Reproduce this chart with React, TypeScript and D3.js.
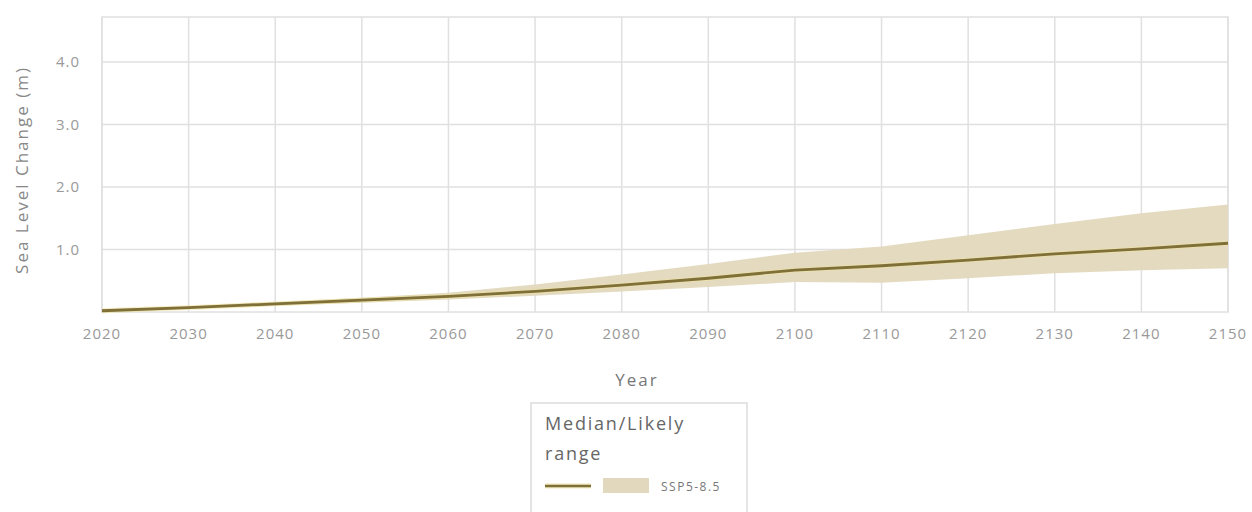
import React from "react";
import * as d3 from "d3";

const years = [2020, 2030, 2040, 2050, 2060, 2070, 2080, 2090, 2100, 2110, 2120, 2130, 2140, 2150];
const median = [0.02, 0.07, 0.13, 0.19, 0.25, 0.33, 0.43, 0.54, 0.67, 0.74, 0.83, 0.93, 1.01, 1.1];
const lower = [0.0, 0.05, 0.1, 0.15, 0.2, 0.26, 0.33, 0.4, 0.48, 0.47, 0.54, 0.62, 0.67, 0.7];
const upper = [0.04, 0.09, 0.16, 0.23, 0.31, 0.44, 0.6, 0.77, 0.95, 1.05, 1.23, 1.41, 1.58, 1.72];
const yTicks = [1.0, 2.0, 3.0, 4.0];
const scenarioLabel = "SSP5-8.5";

const W = 1252;
const H = 512;
const M = { left: 102, right: 1228, top: 17, bottom: 312 };

export default function App() {
  const x = d3.scaleLinear().domain([2020, 2150]).range([M.left, M.right]);
  const y = d3.scaleLinear().domain([0, 4.72]).range([M.bottom, M.top]);
  const idx = years.map((_, i) => i);
  const area = d3
    .area<number>()
    .x((i) => x(years[i]))
    .y0((i) => y(lower[i]))
    .y1((i) => y(upper[i]));
  const line = d3
    .line<number>()
    .x((i) => x(years[i]))
    .y((i) => y(median[i]));
  const font = "'Open Sans', 'Noto Sans', sans-serif";
  const grid = "#e0e0e0";
  const txt = "#999";
  return (
    <svg width={W} height={H} style={{ position: "absolute", left: 0, top: 0, background: "#fff" }} fontFamily={font}>
      <rect x={M.left} y={M.top} width={M.right - M.left} height={M.bottom - M.top} fill="#fff" stroke={grid} strokeWidth={1.5} />
      {years.map((yr) => (
        <line key={"gx" + yr} x1={x(yr)} x2={x(yr)} y1={M.top} y2={M.bottom} stroke={grid} strokeWidth={1.5} />
      ))}
      {yTicks.map((t) => (
        <line key={"gy" + t} x1={M.left} x2={M.right} y1={y(t)} y2={y(t)} stroke={grid} strokeWidth={1.5} />
      ))}
      <path d={area(idx) || ""} fill="#e2d8bd" opacity={0.95} />
      <path d={line(idx) || ""} fill="none" stroke="#efe2a0" strokeWidth={5} opacity={0.6} />
      <path d={line(idx) || ""} fill="none" stroke="#7f6f38" strokeWidth={2.8} />
      {yTicks.map((t) => (
        <text key={"ty" + t} x={80} y={y(t)} dy="0.35em" textAnchor="end" fontSize={15} letterSpacing={1} fill={txt}>
          {d3.format(".1f")(t)}
        </text>
      ))}
      {years.map((yr) => (
        <text key={"tx" + yr} x={x(yr)} y={339} textAnchor="middle" fontSize={15} letterSpacing={1} fill={txt}>
          {yr}
        </text>
      ))}
      <text x={637} y={386} textAnchor="middle" fontSize={17} letterSpacing={2} fill="#777">
        Year
      </text>
      <text transform={`translate(28,170) rotate(-90)`} textAnchor="middle" fontSize={17} letterSpacing={2} fill="#888">
        Sea Level Change (m)
      </text>
      <rect x={531} y={403} width={216} height={120} fill="#fff" stroke="#dcdcdc" strokeWidth={1.5} />
      <text x={545} y={430} fontSize={18} letterSpacing={1.8} fill="#666">
        Median/Likely
      </text>
      <text x={545} y={460} fontSize={18} letterSpacing={1.8} fill="#666">
        range
      </text>
      <line x1={545} x2={591} y1={486} y2={486} stroke="#efe2a0" strokeWidth={5} opacity={0.7} />
      <line x1={545} x2={591} y1={486} y2={486} stroke="#7f6f38" strokeWidth={2.5} />
      <rect x={603} y={478} width={46} height={15} fill="#e2d8bd" />
      <text x={661} y={491} fontSize={12} letterSpacing={1.5} fill="#777">
        {scenarioLabel}
      </text>
    </svg>
  );
}
